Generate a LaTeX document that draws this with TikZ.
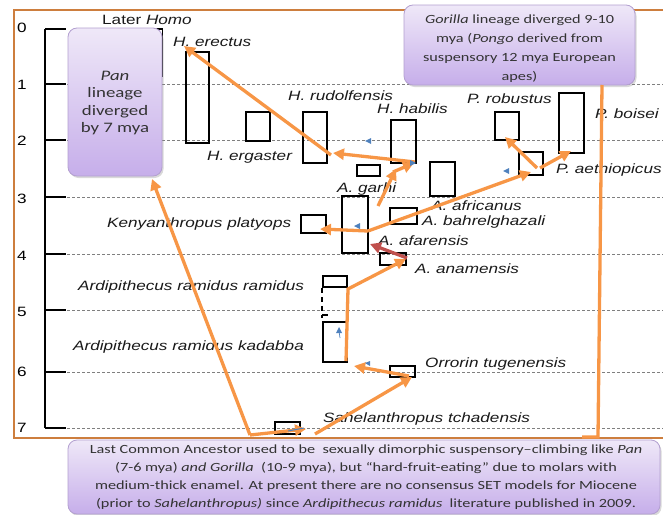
\documentclass[tikz,border=0pt]{standalone}
\usepackage{fontspec}
\setmainfont{Liberation Sans}
\newfontfamily\labfont[FakeStretch=1.27,Ligatures=TeX]{Liberation Sans}
\newfontfamily\boxfont[FakeStretch=1.3,Ligatures=TeX]{Carlito}
\usetikzlibrary{arrows.meta,shadows}
\definecolor{frameor}{HTML}{CD7E3E}
\definecolor{arrowor}{HTML}{F79646}
\definecolor{redarr}{HTML}{C0504D}
\definecolor{bluearr}{HTML}{4F81BD}
\definecolor{ptop}{HTML}{EFE8F8}
\definecolor{pbot}{HTML}{C6AEEA}
\definecolor{pborder}{HTML}{B3A0D0}
\definecolor{gridgray}{HTML}{7F7F7F}
\begin{document}
\begin{tikzpicture}[x=1pt,y=-1pt,
  frameline/.style={draw=frameor, line width=2pt},
  gridline/.style={draw=gridgray, line width=0.8pt, dash pattern=on 3pt off 2pt},
  axisline/.style={draw=black, line width=1.8pt},
  fossil/.style={draw=black, line width=1.8pt, inner sep=0pt},
  lab/.style={font=\labfont\itshape\fontsize{13.5}{15}\selectfont, inner sep=0pt, anchor=base west, text=black!90},
  numlab/.style={font=\labfont\fontsize{13.5}{15}\selectfont, inner sep=0pt},
  purplebox/.style={rounded corners=9pt, draw=pborder, line width=0.8pt, top color=ptop, bottom color=pbot,
     drop shadow={opacity=0.3, shadow xshift=1.5pt, shadow yshift=-2pt}, align=center,
     font=\boxfont\fontsize{12.5}{17.7}\selectfont, text=black!80},
  boxtext/.style={align=center, inner sep=0pt, text=black!80},
  arr/.style={draw=arrowor, line width=3.3pt, -{Triangle[length=11pt,width=11pt]}},
  plainarr/.style={draw=arrowor, line width=3.3pt},
  redarrow/.style={draw=redarr, line width=3.3pt, -{Triangle[length=11pt,width=11pt]}},
  bluetip/.style={fill=bluearr}
]
\useasboundingbox (0,0) rectangle (663,514);
\clip (0,0) rectangle (663,514);

% frame
\draw[frameline] (670,10) -- (14,10) -- (14,438) -- (670,438);

% grid
\foreach \yy in {84,140,197,254,310,372,428} \draw[gridline] (67,\yy) -- (663,\yy);

% axis
\draw[axisline] (45,29) -- (45,428);
\foreach \yy in {29,84,140,197,254,310,372,428} \draw[axisline] (45,\yy) -- (66,\yy);
\node[numlab] (t0) at (22,28) {0};
\node[numlab] (t1) at (22,85) {1};
\node[numlab] (t2) at (22,141) {2};
\node[numlab] (t3) at (22,199) {3};
\node[numlab] (t4) at (22,256) {4};
\node[numlab] (t5) at (22,312) {5};
\node[numlab] (t6) at (22,372) {6};
\node[numlab] (t7) at (22,428) {7};

% fossil ranges
\node[fossil, minimum width=60, minimum height=47] (lhomo) at (132.5,52.5) {};
\node[fossil, minimum width=23, minimum height=91] (erectus) at (197.5,97.5) {};
\node[fossil, minimum width=24, minimum height=29] (ergaster) at (258,126.5) {};
\node[fossil, minimum width=24, minimum height=51] (rudolf) at (315,137.5) {};
\node[fossil, minimum width=25, minimum height=43] (habilis) at (403.5,141.5) {};
\node[fossil, minimum width=23, minimum height=11] (garhi) at (368.5,170.5) {};
\node[fossil, minimum width=25, minimum height=34] (africanus) at (442.5,179) {};
\node[fossil, minimum width=26, minimum height=57] (afarensis) at (355,224.5) {};
\node[fossil, minimum width=27, minimum height=16] (bahrel) at (403.5,216) {};
\node[fossil, minimum width=25, minimum height=18] (kenyan) at (313.5,224) {};
\node[fossil, minimum width=26, minimum height=12] (anamensis) at (393,259) {};
\node[fossil, minimum width=24, minimum height=11] (ramidus) at (335,281.5) {};
\draw[black, line width=1.5pt, dash pattern=on 5pt off 4pt] (ramidus.south west) -- ++(0,30);
\draw[black, line width=1.5pt, dash pattern=on 5pt off 4pt] (ramidus.south east) -- ++(0,30);
\node[fossil, minimum width=24, minimum height=40] (kadabba) at (335,342) {};
\draw[black, line width=1.5pt] (kadabba.north west) ++(0,-6) -- ++(6,0);
\node[fossil, minimum width=25, minimum height=11] (orrorin) at (402.5,371.5) {};
\node[fossil, minimum width=25, minimum height=12] (sahel) at (287.5,428) {};
\node[fossil, minimum width=24, minimum height=28] (robustus) at (507,126) {};
\node[fossil, minimum width=25, minimum height=60] (boisei) at (571.5,123) {};
\node[fossil, minimum width=24, minimum height=23] (aethiop) at (531,163.5) {};

% labels
\node[lab] (Llhomo) at (102,24) {\upshape Later \itshape Homo};
\node[lab] (Lerectus) at (173,46) {H. erectus};
\node[lab] (Lrudolf) at (288,100) {H. rudolfensis};
\node[lab] (Lhabilis) at (377,113) {H. habilis};
\node[lab] (Lergaster) at (207,160) {H. ergaster};
\node[lab] (Lgarhi) at (337,192) {A. garhi};
\node[lab] (Lafricanus) at (431,210) {A. africanus};
\node[lab] (Lbahrel) at (422,225) {A. bahrelghazali};
\node[lab] (Lafarensis) at (378,245) {A. afarensis};
\node[lab] (Lanamensis) at (415,273) {A. anamensis};
\node[lab] (Lkenyan) at (107,227) {Kenyanthropus platyops};
\node[lab] (Lramidus) at (78,290) {Ardipithecus ramidus ramidus};
\node[lab] (Lkadabba) at (73,350) {Ardipithecus ramidus kadabba};
\node[lab] (Lorrorin) at (425,367) {Orrorin tugenensis};
\node[lab] (Lsahel) at (323,422) {Sahelanthropus tchadensis};
\node[lab] (Lrobustus) at (467,103) {P. robustus};
\node[lab] (Lboisei) at (595,118) {P. boisei};
\node[lab] (Laethiop) at (556,173) {P. aethiopicus};

% purple callouts
\node[purplebox, minimum width=94, minimum height=148] (pan) at (115,102) {};
\node[boxtext, font=\boxfont\fontsize{14.5}{17.5}\selectfont] (pantext) at (115,103)
  {\textit{Pan}\\lineage\\diverged\\by 7 mya};
\node[purplebox, minimum width=231, minimum height=80] (gorilla) at (519.5,45) {};
\node[boxtext, font=\boxfont\fontsize{12.5}{19}\selectfont] (gorillatext) at (519.5,49)
  {\textit{Gorilla} lineage diverged 9-10\\mya (\textit{Pongo} derived from\\suspensory 12 mya European\\apes)};
\node[purplebox, minimum width=592, minimum height=74] (lca) at (364,477) {};
\node[boxtext, font=\boxfont\fontsize{12.5}{17.8}\selectfont] (lcatext) at (366,477)
  {Last Common Ancestor used to be\ \ sexually dimorphic suspensory--climbing like \textit{Pan}\\
   (7-6 mya) \textit{and Gorilla}\ \ (10-9 mya), but ``hard-fruit-eating'' due to molars with\\
   medium-thick enamel. At present there are no consensus SET models for Miocene\\
   (prior to \textit{Sahelanthropus)} since \textit{Ardipithecus ramidus}\ \ literature published in 2009.};

% connector points
\coordinate (hubA) at (250,435);
\coordinate (hubB) at (315,434);
\coordinate (panIn) at (152,179);
\coordinate (sahelIn) at (306,429);
\coordinate (orrIn) at (412,377);
\coordinate (orrOut) at (409,376);
\coordinate (kadIn) at (354,366);
\coordinate (kadBot) at (346,361);
\coordinate (ramTop) at (348,289);
\coordinate (anaIn) at (406,259);
\coordinate (anaOut) at (407,258);
\coordinate (afaIn) at (370,244);
\coordinate (afaOut) at (368,231);
\coordinate (kenIn) at (320,229);
\coordinate (aetIn) at (531,172);
\coordinate (afaTop) at (378,206);
\coordinate (garIn) at (396,169);
\coordinate (habA) at (393,172);
\coordinate (habIn) at (414,163);
\coordinate (habOut) at (415,162);
\coordinate (rudIn) at (333,153);
\coordinate (rudOut) at (331,155);
\coordinate (ereIn) at (184,46);
\coordinate (aetOutL) at (537,168);
\coordinate (robIn) at (505,137);
\coordinate (aetOutR) at (540,168);
\coordinate (boiIn) at (571,151);
\coordinate (gorOut) at (602,85);
\coordinate (gorBend) at (598,437);
\coordinate (gorEnd) at (582,437);

% arrows
\draw[arr] (hubA) -- (panIn);
\draw[arr] (hubA) -- (sahelIn);
\draw[arr] (hubB) -- (orrIn);
\draw[arr] (orrOut) -- (kadIn);
\draw[arr] (kadBot) -- (ramTop) -- (anaIn);
\draw[redarrow] (anaOut) -- (afaIn);
\draw[arr] (afaOut) -- (kenIn);
\draw[arr] (afaOut) -- (aetIn);
\draw[arr] (afaTop) -- (garIn);
\draw[arr] (habA) -- (habIn);
\draw[arr] (habOut) -- (rudIn);
\draw[arr] (rudOut) -- (ereIn);
\draw[arr] (aetOutL) -- (robIn);
\draw[arr] (aetOutR) -- (boiIn);
\draw[plainarr] (gorOut) -- (gorBend) -- (gorEnd);

% small blue tips
\fill[bluetip] (365,141) -- (371,138) -- (371,144) -- cycle;
\fill[bluetip] (416,163) -- (410,160) -- (410,166) -- cycle;
\fill[bluetip] (503,171) -- (509,168) -- (509,174) -- cycle;
\fill[bluetip] (354,226) -- (360,223) -- (360,229) -- cycle;
\fill[bluetip] (339,327) -- (336,333) -- (342,333) -- cycle;
\draw[bluearr, line width=0.7pt] (339,331) -- (340,338);
\fill[bluetip] (365,363) -- (370,361) -- (370,366) -- cycle;
\draw[bluearr, line width=1pt] (288,431) -- (304,428);
\end{tikzpicture}
\end{document}
